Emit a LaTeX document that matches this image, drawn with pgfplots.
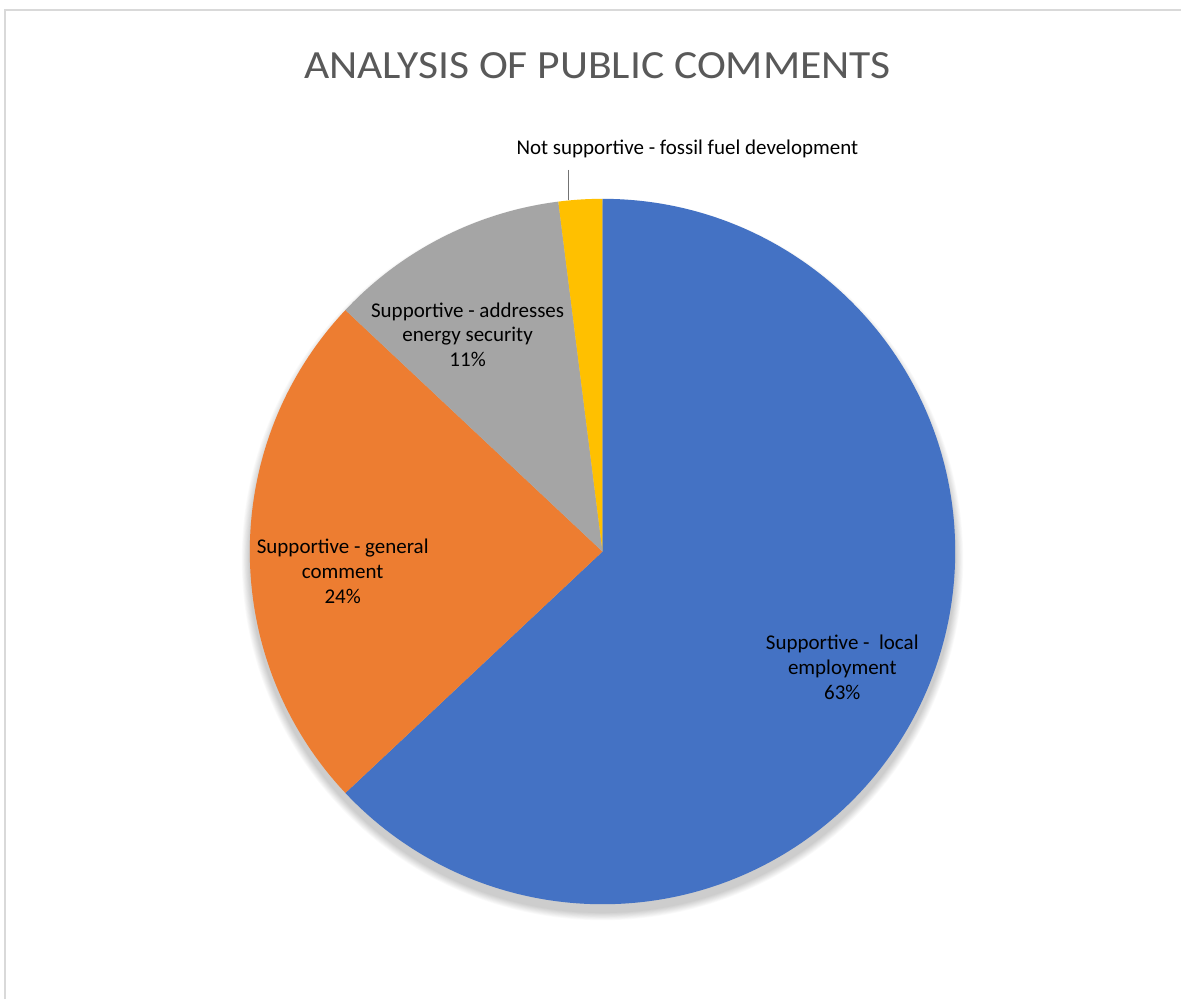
\documentclass[border=0pt]{standalone}
\usepackage{pgfplots}
\pgfplotsset{compat=1.18}
\usepackage{fontspec}
\setmainfont{Carlito}
\definecolor{cblue}{HTML}{4472C4}
\definecolor{corange}{HTML}{ED7D31}
\definecolor{cgray}{HTML}{A5A5A5}
\definecolor{cyellow}{HTML}{FFC000}
\definecolor{ctitle}{HTML}{595959}
% data (percent)
\def\vA{63}\def\vB{24}\def\vC{11}\def\vD{2}
\pgfmathsetmacro{\aZ}{90}
\pgfmathsetmacro{\aA}{\aZ-3.6*\vA}
\pgfmathsetmacro{\aB}{\aA-3.6*\vB}
\pgfmathsetmacro{\aC}{\aB-3.6*\vC}
\pgfmathsetmacro{\aD}{\aC-3.6*\vD}
\def\R{176.5pt}
\begin{document}
\begin{tikzpicture}
\begin{axis}[scale only axis, width=591pt, height=500pt,
  xmin=0, xmax=1182, ymin=0, ymax=1000, hide axis, clip=false]
\fill[white] (axis cs:0,0) rectangle (axis cs:1182,1000);
\draw[black!15, line width=1pt] (axis cs:5,0) -- (axis cs:5,990) -- (axis cs:1182,990);
% soft shadow
\pgfplotsinvokeforeach{1,2,3,4,5,6,7,8,9,10}{
  \fill[black, opacity=0.018] (axis cs:603,440) circle[radius=176.5pt+#1*0.4pt];
}
% slices
\fill[cblue] (axis cs:603,448) -- ++(\aZ:\R) arc[start angle=\aZ, end angle=\aA, radius=\R] -- cycle;
\fill[corange] (axis cs:603,448) -- ++(\aA:\R) arc[start angle=\aA, end angle=\aB, radius=\R] -- cycle;
\fill[cgray] (axis cs:603,448) -- ++(\aB:\R) arc[start angle=\aB, end angle=\aC, radius=\R] -- cycle;
\fill[cyellow] (axis cs:603,448) -- ++(\aC:\R) arc[start angle=\aC, end angle=\aD, radius=\R] -- cycle;
% title
\node[text=ctitle, font=\fontsize{20}{24}\selectfont] at (axis cs:598,934) {\scalebox{1.09}[1]{ANALYSIS OF PUBLIC COMMENTS}};
% labels
\node[align=center, font=\fontsize{10.5}{12.4}\selectfont] at (axis cs:468,665) {Supportive - addresses\\energy security\\11\%};
\node[align=center, font=\fontsize{10.5}{12.4}\selectfont] at (axis cs:343,428) {Supportive - general\\comment\\24\%};
\node[align=center, font=\fontsize{10.5}{12.4}\selectfont] at (axis cs:843,332) {Supportive -\ \ local\\employment\\63\%};
\node[font=\fontsize{10.5}{12.4}\selectfont] at (axis cs:688,851) {Not supportive - fossil fuel development};
\draw[black!55, line width=0.5pt] (axis cs:569,830) -- (axis cs:569,800);
\end{axis}
\end{tikzpicture}
\end{document}
